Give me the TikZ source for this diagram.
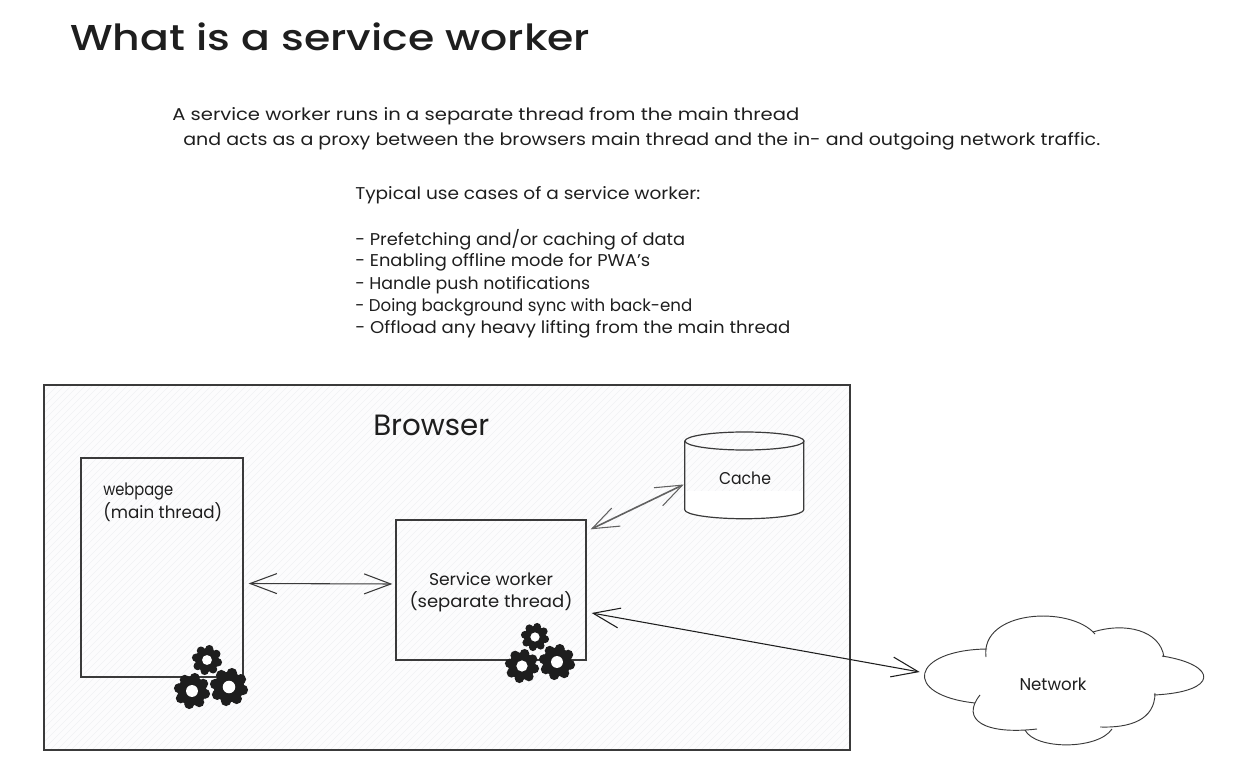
\documentclass[tikz,border=0pt]{standalone}
\usepackage{graphicx}
\usepackage{fontspec}
\setmainfont{Poppins}[BoldFont={Poppins Medium}]
\usetikzlibrary{arrows.meta}
\definecolor{ink}{HTML}{1E1E1E}
\definecolor{stroke}{HTML}{3A3A3A}
\definecolor{panel}{HTML}{FCFCFD}
\definecolor{hatch}{HTML}{F1F2F4}
% set #2 stretched horizontally to #1 reference pixels
\newcommand\fitw[2]{\setbox0=\hbox{#2}\pgfmathsetmacro{\fitr}{#1*0.75/\the\wd0}\scalebox{\fitr}[1]{#2}}
\tikzset{
  box/.style={draw=stroke,line width=1pt,inner sep=0pt},
  txt/.style={anchor=west,inner sep=0pt,text=ink,font=\fontsize{12.8}{15}\selectfont},
  ctr/.style={anchor=center,inner sep=0pt,text=ink,font=\fontsize{12.8}{15}\selectfont},
  link/.style={draw=stroke,line width=0.8pt,{Straight Barb[length=20pt,width=15pt,line width=0.8pt]}-{Straight Barb[length=20pt,width=15pt,line width=0.8pt]}},
  gear/.pic={
    \fill[ink] (0,0) circle (0.8);
    \foreach \a in {0,45,...,315}{\fill[ink] (\a+12:0.74) circle (0.28);}
    \fill[white] (0,0) circle (0.33);
  }
}
\begin{document}
\begin{tikzpicture}[x=0.75pt,y=-0.75pt]
\useasboundingbox (0,0) rectangle (1233,777);
% browser panel
\node[box,fill=panel,minimum width=604.5pt,minimum height=273.75pt] (browser) at (447,567.5) {};
\begin{scope}
\clip (browser.south west) rectangle (browser.north east);
\foreach \a in {-321,-314,...,850}{\draw[hatch,line width=0.5pt] (\a,750) -- (\a+365,385);}
\end{scope}
\node[box,minimum width=604.5pt,minimum height=273.75pt] at (447,567.5) {};
% texts
\node[txt,font=\fontsize{27}{30}\selectfont\bfseries] (title) at (70,37) {\fitw{520}{What is a service worker}};
\node[txt] (intro1) at (172,116) {\fitw{627}{A service worker runs in a separate thread from the main thread}};
\node[txt] (intro2) at (183,141) {\fitw{917}{and acts as a proxy between the browsers main thread and the in- and outgoing network traffic.}};
\node[txt] (use0) at (355,195) {\fitw{345}{Typical use cases of a service worker:}};
\node[txt] (use1) at (355,240) {\fitw{330}{- Prefetching and/or caching of data}};
\node[txt] (use2) at (355,262) {\fitw{295}{- Enabling offline mode for PWA's}};
\node[txt] (use3) at (355,285) {\fitw{235}{- Handle push notifications}};
\node[txt] (use4) at (355,307) {\fitw{337}{- Doing background sync with back-end}};
\node[txt] (use5) at (355,329) {\fitw{435}{- Offload any heavy lifting from the main thread}};
\node[txt,font=\fontsize{22}{26}\selectfont] (blabel) at (373,425) {\fitw{116}{Browser}};
% boxes
\node[box,minimum width=121.5pt,minimum height=164.25pt] (web) at (162,567.5) {};
\node[box,minimum width=142.5pt,minimum height=105pt] (sw) at (491,590) {};
\node[txt] (weblabel) at (103,491) {\fitw{70}{webpage}};
\node[txt] (weblabel2) at (103,512) {\fitw{119}{(main thread)}};
\node[ctr] (swlabel) at (491,579) {\fitw{124}{Service worker}};
\node[ctr] (swlabel2) at (491,602) {\fitw{163}{(separate thread)}};
% cache
\node[inner sep=0pt,minimum width=89.25pt,minimum height=65.25pt] (cache) at (744.5,475.5) {};
\fill[white] (685,491) rectangle (804,510);
\fill[white] (685,510) arc[start angle=180,end angle=0,x radius=59.5,y radius=9] -- cycle;
\draw[draw=stroke,line width=0.9pt] (cache.north west)++(0,9) -- ++(0,69) arc[start angle=180,end angle=0,x radius=59.5,y radius=9] -- ++(0,-69);
\draw[draw=stroke,line width=0.9pt] (744.5,441) ellipse[x radius=59.5,y radius=9];
\node[ctr] (cachelabel) at (745,478) {\fitw{52}{Cache}};
% cloud
\fill[white] (986,649) .. controls (990,610) and (1070,605) .. (1095,634)
  .. controls (1125,622) and (1160,630) .. (1163,656)
  .. controls (1219,665) and (1219,692) .. (1154,695)
  .. controls (1155,720) and (1130,728) .. (1100,727)
  .. controls (1095,750) and (1035,750) .. (1025,730)
  .. controls (985,735) and (965,720) .. (975,703)
  .. controls (901,695) and (911,650) .. (986,649) -- cycle;
\begin{scope}[draw=stroke,line width=0.7pt]
\draw (986,657) .. controls (980,610) and (1070,605) .. (1095,634);
\draw (1093,632) .. controls (1125,622) and (1160,630) .. (1164,657);
\draw (1162,656) .. controls (1219,665) and (1219,692) .. (1154,695);
\draw (1155,693) .. controls (1155,720) and (1130,728) .. (1100,727);
\draw (1112,729) .. controls (1098,750) and (1035,750) .. (1025,730);
\draw (1037,729) .. controls (985,735) and (960,720) .. (980,695);
\draw (975,703) .. controls (901,695) and (911,650) .. (987,649);
\end{scope}
\node[inner sep=0pt,minimum width=209.25pt,minimum height=96pt] (network) at (1063.5,683) {};
\node[ctr] (netlabel) at (1053,684) {\fitw{67}{Network}};
% connectors
\draw[link] ([shift={(5,16)}]web.east) -- ([shift={(-3,-6)}]sw.west);
\draw[link,draw=stroke!80,line width=1.2pt] ([shift={(4,10)}]sw.north east) -- ([shift={(-1,9)}]cache.west);
\draw[link,draw=ink] ([shift={(5,23)}]sw.east) -- ([shift={(-4,-11)}]network.west);
% gears
\pic[scale=15] at (207,660) {gear};
\pic[scale=18] at (192,691) {gear};
\pic[scale=19] at (229,687) {gear};
\pic[scale=14] at (535,637) {gear};
\pic[scale=17] at (522,666) {gear};
\pic[scale=18] at (557,662) {gear};
\end{tikzpicture}
\end{document}
